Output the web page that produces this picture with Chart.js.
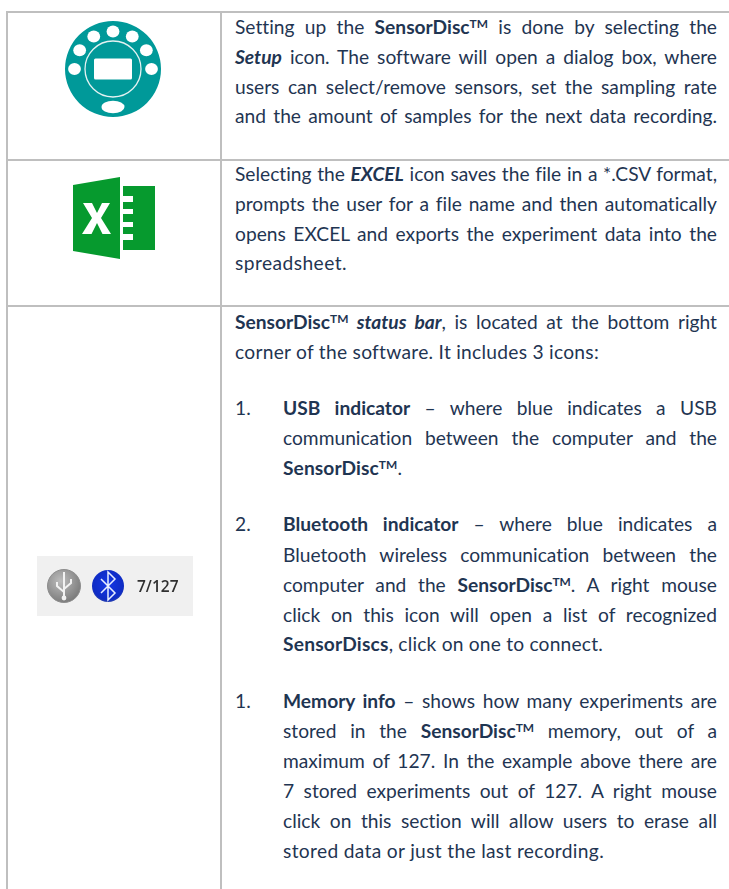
<!DOCTYPE html>
<html>
<head>
<meta charset="utf-8">
<title>SensorDisc software icons</title>
<script src="https://cdn.jsdelivr.net/npm/chart.js@4/dist/chart.umd.min.js"></script>
<style>
  html, body { margin: 0; padding: 0; background: #fff; }
  body { width: 729px; height: 889px; position: relative; overflow: hidden; font-family: Lato, "Open Sans", sans-serif; color: #1f3552; }
  .rule { position: absolute; background: #bfbfbf; }
  .ln { position: absolute; left: 235px; width: 482px; height: 30px; line-height: 30px; font-size: 19.2px; white-space: nowrap; text-align: justify; text-align-last: justify; font-variant-ligatures: none; }
  .ln.last { text-align-last: left; }
  .ln.in { left: 283px; width: 434px; }
  .num { position: absolute; left: 235px; height: 30px; line-height: 30px; font-size: 19.2px; }
  sup { font-size: 62%; line-height: 0; vertical-align: 6px; font-weight: 700; }
  #discWrap { position: absolute; left: 57px; top: 13px; width: 112px; height: 112px; }
  #excelIcon { position: absolute; left: 65px; top: 172px; }
  #statusBar { position: absolute; left: 37px; top: 556px; width: 156px; height: 60px; background: #f0f0f0; }
  #statusBar svg { position: absolute; left: 0; top: 0; filter: blur(.6px); }
  #memText { position: absolute; left: 100px; top: 19px; font-size: 15.5px; line-height: 22px; font-weight: 600; font-family: "Open Sans", sans-serif; color: #303030; filter: blur(.3px); }
</style>
</head>
<body>
<div class="rule" style="left:6px;top:11px;width:723px;height:2px"></div>
<div class="rule" style="left:6px;top:159px;width:723px;height:2px"></div>
<div class="rule" style="left:6px;top:305px;width:723px;height:2px"></div>
<div class="rule" style="left:6px;top:11px;width:2px;height:878px"></div>
<div class="rule" style="left:220px;top:11px;width:2px;height:878px"></div>

<div id="discWrap"><canvas id="discChart" width="112" height="112"></canvas></div>

<svg id="excelIcon" width="100" height="92" viewBox="0 0 100 92">
  <polygon points="8,13 55,5 55,87 8,79" fill="#069a2e"/>
  <path d="M58,14 H90 V78 H58 V68 H68 V62 H58 V55 H68 V50 H58 V42 H68 V37 H58 V30 H68 V24 H58 Z" fill="#069a2e"/>
  <path d="M18,31 H27 L32,41 L37,31 H45 L36,46 L46,62 H37.5 L32,51 L26.500,62 H17 L27,46 Z" fill="#fff"/>
</svg>

<div id="statusBar">
  <svg width="156" height="60" viewBox="0 0 156 60">
    <defs>
      <radialGradient id="usbFill" cx=".4" cy=".35" r=".7"><stop offset="0" stop-color="#bdbdbd"/><stop offset="1" stop-color="#787878"/></radialGradient>
      <radialGradient id="btFill" cx=".5" cy=".45" r=".6"><stop offset="0" stop-color="#1537e6"/><stop offset=".8" stop-color="#0f2cc4"/><stop offset="1" stop-color="#3a4f9e"/></radialGradient>
    </defs>
    <circle cx="27" cy="30" r="16.500" fill="url(#usbFill)" stroke="#8d8d8d"/>
    <path d="M27,16 V41 M27,36 L20,30 V26 M27,33 L34,27 V23" fill="none" stroke="#f2f2f2" stroke-width="2"/>
    <circle cx="27" cy="42" r="2.400" fill="#f2f2f2"/>
    <circle cx="71" cy="30" r="16" fill="url(#btFill)"/>
    <path d="M64,23 L78,37 L71,44 V16 L78,23 L64,37" fill="none" stroke="#e8eeff" stroke-width="1.500"/>
  </svg>
  <div id="memText">7/127</div>
</div>

<div id="copy"></div>

<script>
// Memory counter and disc layout
var memoryStored = 7;
var memoryMax = 127;
var discLabels = ['Setup'];
var discValues = [1];
document.getElementById('memText').textContent = memoryStored + '/' + memoryMax;

// Text lines, kept line by line so the breaks match the page
// top, html, class, and for short last lines the width they take
var TM = 'SensorDisc<sup>TM</sup>';
var lines = [
  [12, 'Setting up the <b>' + TM + '</b> is done by selecting the', ''],
  [42, '<b><i>Setup</i></b> icon. The software will open a dialog box, where', ''],
  [72, 'users can select/remove sensors, set the sampling rate', ''],
  [101, 'and the amount of samples for the next data recording.', ''],
  [159, 'Selecting the <b><i>EXCEL</i></b> icon saves the file in a *.CSV format,', ''],
  [189, 'prompts the user for a file name and then automatically', ''],
  [219, 'opens EXCEL and exports the experiment data into the', ''],
  [248, 'spreadsheet.', 'last', 112],
  [307, '<b>' + TM + ' <i>status bar</i></b>, is located at the bottom right', ''],
  [337, 'corner of the software. It includes 3 icons:', 'last', 364],
  [393, '<b>USB indicator</b> – where blue indicates a USB', 'in'],
  [423, 'communication between the computer and the', 'in'],
  [453, '<b>' + TM + '</b>.', 'in last', 119],
  [509, '<b>Bluetooth indicator</b> – where blue indicates a', 'in'],
  [540, 'Bluetooth wireless communication between the', 'in'],
  [570, 'computer and the <b>' + TM + '</b>. A right mouse', 'in'],
  [600, 'click on this icon will open a list of recognized', 'in'],
  [629, '<b>SensorDiscs</b>, click on one to connect.', 'in last', 320],
  [686, '<b>Memory info</b> – shows how many experiments are', 'in'],
  [716, 'stored in the <b>' + TM + '</b> memory, out of a', 'in'],
  [746, 'maximum of 127. In the example above there are', 'in'],
  [776, '7 stored experiments out of 127. A right mouse', 'in'],
  [806, 'click on this section will allow users to erase all', 'in'],
  [836, 'stored data or just the last recording.', 'in last', 321]
];
var numbers = [[393, '1.'], [509, '2.'], [686, '1.']];

var copy = document.getElementById('copy');
lines.forEach(function (row) {
  var d = document.createElement('div');
  d.className = 'ln ' + row[2];
  d.style.top = row[0] + 'px';
  d.innerHTML = row[1];
  copy.appendChild(d);
  if (row[3]) {
    // fit the short lines to the width they have on the page
    var span = document.createElement('span');
    span.innerHTML = row[1];
    d.innerHTML = '';
    d.appendChild(span);
    var natural = span.getBoundingClientRect().width;
    d.style.letterSpacing = ((row[3] - natural) / span.textContent.length) + 'px';
  }
});
numbers.forEach(function (row) {
  var d = document.createElement('div');
  d.className = 'num';
  d.style.top = row[0] + 'px';
  d.textContent = row[1];
  copy.appendChild(d);
});

// White holes, ring and screen on top of the teal disc
var discDetail = {
  id: 'discDetail',
  afterDraw: function (chart) {
    var c = chart.ctx;
    var arc = chart.getDatasetMeta(0).data[0];
    var cx = arc.x, cy = arc.y;
    c.save();
    c.fillStyle = '#fff';
    c.strokeStyle = '#e4f2f2';
    for (var i = 0; i <= 6; i++) {
      var a = Math.PI * i / 6;
      c.beginPath();
      c.ellipse(cx - 38.5 * Math.cos(a), cy - 37.5 * Math.sin(a), 6.4, 6.1, 0, 0, Math.PI * 2);
      c.fill();
    }
    c.beginPath();
    c.ellipse(cx, cy + 38, 11.5, 6.2, 0, 0, Math.PI * 2);
    c.fill();
    c.lineWidth = 1.3;
    c.beginPath();
    c.arc(cx, cy, 28, 0, Math.PI * 2);
    c.stroke();
    c.beginPath();
    c.roundRect(cx - 19, cy - 10.500, 38, 21, 1.500);
    c.fill();
    c.restore();
  }
};

new Chart(document.getElementById('discChart'), {
  type: 'doughnut',
  data: {
    labels: discLabels,
    datasets: [{ data: discValues, backgroundColor: '#009999', borderWidth: 0 }]
  },
  options: {
    responsive: false,
    animation: false,
    cutout: 0,
    layout: { padding: 8 },
    plugins: { legend: { display: false }, tooltip: { enabled: false } }
  },
  plugins: [discDetail]
});
</script>
</body>
</html>
